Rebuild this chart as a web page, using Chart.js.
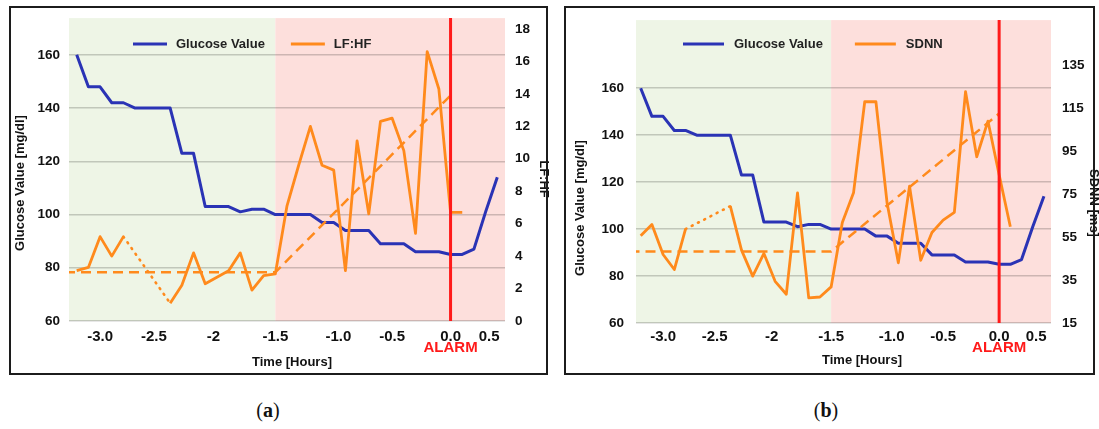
<!DOCTYPE html>
<html>
<head>
<meta charset="utf-8">
<script src="https://cdn.jsdelivr.net/npm/chart.js@4.4.1/dist/chart.umd.min.js"></script>
<style>
	body { margin: 0; width: 1099px; height: 429px; background: #fff; position: relative; overflow: hidden; }
	canvas { position: absolute; top: 0; }
	#graphique-a { left: 0; }
	#graphique-b { left: 556px; }
	.cadre { position: absolute; top: 6px; height: 365px; border: 2px solid #1c1c1c; pointer-events: none; }
	.legende { position: absolute; top: 399px; width: 60px; margin-left: -30px; text-align: center;
		font-family: 'Liberation Serif', 'DejaVu Serif', serif; font-size: 20px; color: #111; }
</style>
</head>
<body>
<canvas id="graphique-a" width="556" height="380"></canvas>
<canvas id="graphique-b" width="543" height="380"></canvas>
<div class="cadre" style="left:9px; width:535px;"></div>
<div class="cadre" style="left:564px; width:527px;"></div>
<div class="legende" style="left:268px;">(<b>a</b>)</div>
<div class="legende" style="left:826px;">(<b>b</b>)</div>
<script>
// Temps (heures avant l'alarme), une mesure toutes les 6 minutes
const heures = [-3.2, -3.1, -3.0, -2.9, -2.8, -2.7, -2.6, -2.5, -2.4, -2.3, -2.2, -2.1, -2.0,
	-1.9, -1.8, -1.7, -1.6, -1.5, -1.4, -1.3, -1.2, -1.1, -1.0, -0.9, -0.8, -0.7, -0.6,
	-0.5, -0.4, -0.3, -0.2, -0.1, 0.0, 0.1, 0.2, 0.3, 0.4];
const glycemie = [160, 148, 148, 142, 142, 140, 140, 140, 140, 123, 123, 103, 103, 103, 101, 102, 102,
	100, 100, 100, 100, 97, 97, 94, 94, 94, 89, 89, 89, 86, 86, 86, 85, 85, 87, 101, 114];
const lfhf = [3.1, 3.3, 5.2, 4.0, 5.2, null, null, null, 1.1, 2.2, 4.2, 2.3, 2.7, 3.1, 4.2, 1.9, 2.8,
	2.9, 7.1, 9.6, 12.0, 9.6, 9.3, 3.1, 11.1, 6.6, 12.3, 12.5, 10.5, 5.4, 16.6, 14.3, 6.7, 6.7, null, null, null];
const sdnn = [55.6, 60.9, 46.9, 39.9, 58.7, null, null, null, 69.4, 48.9, 36.8, 47.4, 34.4, 28.4, 75.6, 26.7, 27.1,
	31.8, 61.8, 75.6, 118, 118, 70.7, 43, 78.7, 44.2, 57.1, 62.9, 66.5, 122.7, 92.4, 109, 84, 59.8, null, null, null];

// Tendances (lignes en tirets)
const heuresTendance = [-3.3, -1.5, 0.0];
const tendanceLfhf = [3.0, 3.0, 13.9];
const tendanceSdnn = [48.3, 48.3, 112.5];

// Graduations
const positionsHeures = [-3.0, -2.54, -2.03, -1.5, -0.96, -0.5, 0.0, 0.33];
const etiquettesHeures = ['-3.0', '-2.5', '-2', '-1.5', '-1.0', '-0.5', '0.0', '0.5'];
const ticksGlycemie = [60, 80, 100, 120, 140, 160];
const ticksLfhf = [0, 2, 4, 6, 8, 10, 12, 14, 16, 18];
const ticksSdnn = [15, 35, 55, 75, 95, 115, 135];

const limiteZones = -1.5;
const heureAlarme = 0.0;

const couleurGlycemie = '#2a33b5';
const couleurVfc = '#ff8a1c';
const couleurTexte = '#111';
const police = '"Liberation Sans", Arial, sans-serif';

Chart.defaults.font.family = police;

function enPoints(xs, ys) {
	return xs.map((x, i) => ({ x: x, y: ys[i] }));
}

// Fond vert / rose derrière la grille
const pluginZones = {
	id: 'zones',
	beforeDraw(chart, args, opts) {
		const { ctx, chartArea } = chart;
		const limite = chart.scales.x.getPixelForValue(opts.limite);
		ctx.save();
		ctx.fillStyle = '#eef5e6';
		ctx.fillRect(chartArea.left, chartArea.top, limite - chartArea.left, chartArea.height);
		ctx.fillStyle = '#fddfdc';
		ctx.fillRect(limite, chartArea.top, chartArea.right - limite, chartArea.height);
		ctx.restore();
	},
};

// Ligne rouge de l'alarme + texte ALARM
const pluginAlarme = {
	id: 'alarme',
	afterDatasetsDraw(chart, args, opts) {
		const { ctx, chartArea } = chart;
		const px = chart.scales.x.getPixelForValue(opts.heure);
		ctx.save();
		ctx.strokeStyle = '#ff1a1a';
		ctx.lineWidth = 3;
		ctx.beginPath();
		ctx.moveTo(px, chartArea.top);
		ctx.lineTo(px, chartArea.bottom);
		ctx.stroke();
		ctx.fillStyle = '#ff1a1a';
		ctx.font = 'bold 15px ' + police;
		ctx.textAlign = 'center';
		ctx.textBaseline = 'middle';
		ctx.fillText('ALARM', px, chartArea.bottom + opts.decalage);
		ctx.restore();
	},
};

// Légende dessinée à l'intérieur de la zone du graphique
const pluginLegende = {
	id: 'legendeInterne',
	afterDraw(chart, args, opts) {
		const { ctx, chartArea } = chart;
		let x = chartArea.left + opts.x;
		const y = chartArea.top + opts.y;
		ctx.save();
		ctx.font = 'bold 13px ' + police;
		ctx.textBaseline = 'middle';
		ctx.textAlign = 'left';
		for (const ds of chart.data.datasets) {
			if (ds.enLegende === false) continue;
			ctx.strokeStyle = ds.borderColor;
			ctx.lineWidth = 3;
			ctx.beginPath();
			ctx.moveTo(x, y);
			ctx.lineTo(x + opts.trait, y);
			ctx.stroke();
			x += opts.trait + opts.espace;
			ctx.fillStyle = '#222';
			ctx.fillText(ds.label, x, y);
			x += ctx.measureText(ds.label).width + opts.ecart;
		}
		ctx.restore();
	},
};

// Titres des axes (placés comme dans la figure d'origine, pas forcément centrés)
const pluginTitres = {
	id: 'titresAxes',
	afterDraw(chart, args, opts) {
		const { ctx } = chart;
		ctx.save();
		ctx.font = 'bold 13px ' + police;
		ctx.fillStyle = couleurTexte;
		ctx.textAlign = 'center';
		ctx.textBaseline = 'middle';
		for (const t of opts.titres) {
			ctx.save();
			ctx.translate(t.x, t.y);
			ctx.rotate(t.rotation * Math.PI / 180);
			ctx.fillText(t.texte, 0, 0);
			ctx.restore();
		}
		ctx.restore();
	},
};

const pointille = (ctx, valeur) => (ctx.p0.skip || ctx.p1.skip ? valeur : undefined);

function creerGraphique(id, nomVfc, valeursVfc, tendance, ticksVfc, p) {
	const policeTicks = { size: 13.5, weight: 'bold' };
	const config = {
		type: 'line',
		data: {
			datasets: [
				{
					label: 'Glucose Value',
					data: enPoints(heures, glycemie),
					yAxisID: 'yG',
					borderColor: couleurGlycemie,
					borderWidth: 3,
					pointRadius: 0,
					borderJoinStyle: 'round',
					order: 3,
				},
				{
					label: nomVfc,
					data: enPoints(heures, valeursVfc),
					yAxisID: 'yV',
					borderColor: couleurVfc,
					borderWidth: 2.8,
					pointRadius: 0,
					borderJoinStyle: 'round',
					spanGaps: true,
					segment: {
						borderDash: (ctx) => pointille(ctx, [1, 6]),
						borderCapStyle: (ctx) => pointille(ctx, 'round'),
						borderWidth: (ctx) => pointille(ctx, 2.6),
					},
					order: 2,
				},
				{
					label: 'Tendance',
					enLegende: false,
					data: enPoints(heuresTendance, tendance),
					yAxisID: 'yV',
					borderColor: couleurVfc,
					borderWidth: 2.5,
					borderDash: [10, 6],
					pointRadius: 0,
					order: 1,
				},
			],
		},
		options: {
			responsive: false,
			animation: false,
			layout: { padding: { top: p.haut, left: 0, right: 0, bottom: 0 } },
			scales: {
				x: {
					type: 'linear',
					min: p.xMin,
					max: p.xMax,
					afterBuildTicks: (s) => { s.ticks = positionsHeures.map((v) => ({ value: v })); },
					afterFit: (s) => { s.height = p.hauteurX; },
					ticks: {
						autoSkip: false,
						maxRotation: 0,
						padding: p.padX,
						color: couleurTexte,
						font: { size: 15, weight: 'bold' },
						callback: (v, i) => etiquettesHeures[i],
					},
					grid: { display: false, drawTicks: false },
					border: { display: false },
				},
				yG: {
					type: 'linear',
					position: 'left',
					min: 60,
					max: p.maxGlycemie,
					afterBuildTicks: (s) => { s.ticks = ticksGlycemie.map((v) => ({ value: v })); },
					afterFit: (s) => { s.width = p.largeurGauche; },
					ticks: { padding: p.padGauche, color: couleurTexte, font: policeTicks },
					grid: { color: 'rgba(0,0,0,0.19)', lineWidth: 1.5, drawTicks: false },
					border: { display: false },
				},
				yV: {
					type: 'linear',
					position: 'right',
					min: p.minVfc,
					max: p.maxVfc,
					afterBuildTicks: (s) => { s.ticks = ticksVfc.map((v) => ({ value: v })); },
					afterFit: (s) => { s.width = p.largeurDroite; },
					ticks: { padding: p.padDroite, color: couleurTexte, font: policeTicks },
					grid: { display: false, drawTicks: false },
					border: { display: false },
				},
			},
			plugins: {
				legend: { display: false },
				tooltip: { enabled: false },
				zones: { limite: limiteZones },
				alarme: { heure: heureAlarme, decalage: p.decalageAlarme },
				legendeInterne: p.legende,
				titresAxes: { titres: p.titres },
			},
		},
		plugins: [pluginZones, pluginAlarme, pluginLegende, pluginTitres],
	};
	return new Chart(document.getElementById(id), config);
}

creerGraphique('graphique-a', 'LF:HF', lfhf, tendanceLfhf, ticksLfhf, {
	haut: 15, hauteurX: 59, largeurGauche: 69, largeurDroite: 51,
	xMin: -3.266, xMax: 0.466,
	maxGlycemie: 173.8, minVfc: 0, maxVfc: 18.67,
	padX: 7, padGauche: 9, padDroite: 10,
	decalageAlarme: 27,
	legende: { x: 64, y: 26, trait: 34, espace: 9, ecart: 26 },
	titres: [
		{ texte: 'Glucose Value [mg/dl]', x: 20, y: 183, rotation: -90 },
		{ texte: 'LF:HF', x: 544, y: 179, rotation: 90 },
		{ texte: 'Time [Hours]', x: 292, y: 362, rotation: 0 },
	],
});

creerGraphique('graphique-b', 'SDNN', sdnn, tendanceSdnn, ticksSdnn, {
	haut: 20, hauteurX: 57, largeurGauche: 80, largeurDroite: 48,
	xMin: -3.242, xMax: 0.463,
	maxGlycemie: 189, minVfc: 15, maxVfc: 156,
	padX: 5, padGauche: 12, padDroite: 11,
	decalageAlarme: 25,
	legende: { x: 47, y: 24, trait: 41, espace: 10, ecart: 32 },
	titres: [
		{ texte: 'Glucose Value [mg/dl]', x: 24, y: 208, rotation: -90 },
		{ texte: 'SDNN [ms]', x: 538, y: 203, rotation: 90 },
		{ texte: 'Time [Hours]', x: 306, y: 360, rotation: 0 },
	],
});
</script>
</body>
</html>
